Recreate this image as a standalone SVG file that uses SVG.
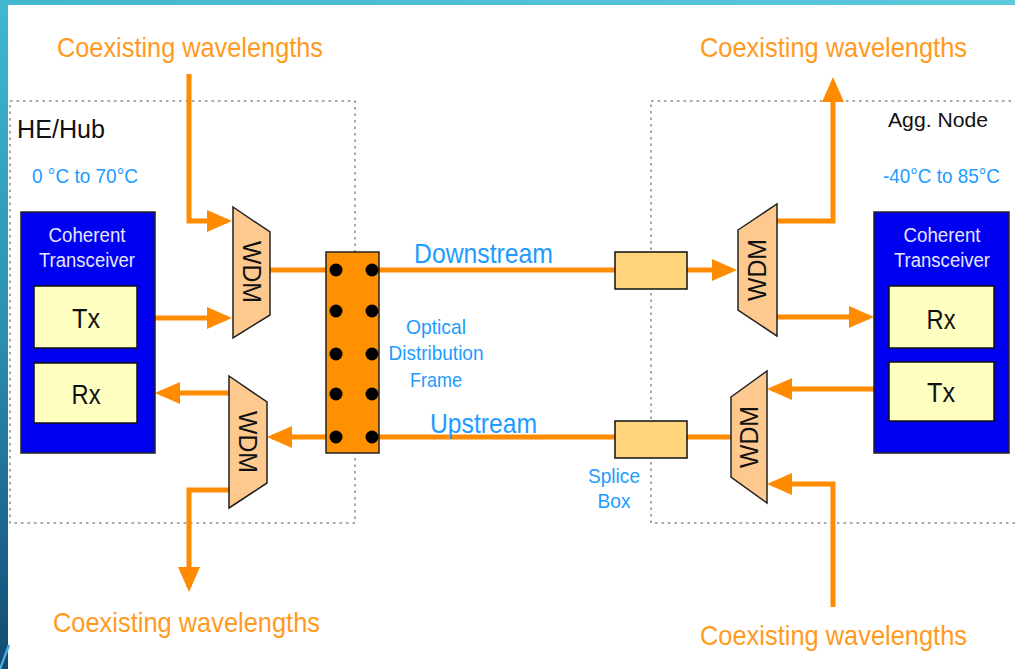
<svg xmlns="http://www.w3.org/2000/svg" width="1015" height="669" viewBox="0 0 1015 669">
<defs>
<linearGradient id="gl" x1="0" y1="0" x2="0" y2="1">
<stop offset="0" stop-color="#3fb8d2"/>
<stop offset="0.5" stop-color="#2a8fb2"/>
<stop offset="1" stop-color="#124a72"/>
</linearGradient>
<linearGradient id="gt" x1="0" y1="0" x2="1" y2="0">
<stop offset="0" stop-color="#44b6cf"/>
<stop offset="1" stop-color="#5ec8dc"/>
</linearGradient>
<marker id="ah" markerUnits="userSpaceOnUse" markerWidth="26" markerHeight="24" refX="20" refY="11" orient="auto">
<path d="M0,0 L25,11 L0,22 z" fill="#ff8c00"/>
</marker>
<style>
.dash{fill:none;stroke:#8a8a8a;stroke-width:1.5;stroke-dasharray:2.5 4}
.ln{fill:none;stroke:#ff8c00;stroke-width:5}
.arr{marker-end:url(#ah)}
.txr{fill:#0000f0;stroke:#222;stroke-width:1.5}
.box{fill:#ffffc2;stroke:#111;stroke-width:1.5}
.wdm{fill:#fdc98e;stroke:#222;stroke-width:1.5}
.spl{fill:#ffd47c;stroke:#111;stroke-width:1.5}
.odf{fill:#ff9100;stroke:#222;stroke-width:1.5}
.dot{fill:#000}
text{font-family:"Liberation Sans",Arial,sans-serif}
.cw{fill:#ff9a1e;font-size:28px}
.bl{fill:#1e9bff}
.wt{fill:#e6e6ff;font-size:20px;text-anchor:middle}
.tr{fill:#111;font-size:28px;text-anchor:middle}
.wd{fill:#111;font-size:25px;text-anchor:middle}
</style>
</defs>
<rect x="0" y="0" width="1015" height="669" fill="#ffffff"/>
<rect x="0" y="0" width="8" height="669" fill="url(#gl)"/>
<rect x="0" y="0" width="1015" height="5" fill="url(#gt)"/>
<line x1="0" y1="669" x2="9" y2="645" stroke="#4aa8e0" stroke-width="2.5"/>

<g id="he-hub">
<rect class="dash" x="10" y="101" width="345" height="422"/>
<text x="17" y="138" font-size="25" fill="#111" textLength="88" lengthAdjust="spacingAndGlyphs">HE/Hub</text>
<text class="bl" x="32" y="183" font-size="21" textLength="106" lengthAdjust="spacingAndGlyphs">0 °C to 70°C</text>
</g>
<g id="agg-node">
<rect class="dash" x="651" y="101" width="400" height="422"/>
<text x="888" y="127" font-size="21" fill="#111" textLength="100" lengthAdjust="spacingAndGlyphs">Agg. Node</text>
<text class="bl" x="883" y="183" font-size="21" textLength="117" lengthAdjust="spacingAndGlyphs">-40°C to 85°C</text>
</g>

<g id="connectors">
<path class="ln arr" d="M189,74 V221 H227"/>
<path class="ln arr" d="M155,318 H227"/>
<path class="ln" d="M270,270 H615"/>
<path class="ln arr" d="M687,270 H732"/>
<path class="ln arr" d="M731,437 H272"/>
<path class="ln arr" d="M229,393 H160"/>
<path class="ln arr" d="M229,490 H189 V587"/>
<path class="ln arr" d="M777,221 H833 V82"/>
<path class="ln arr" d="M777,317 H869"/>
<path class="ln arr" d="M874,389 H772"/>
<path class="ln arr" d="M833,607 V484 H772"/>
</g>

<g id="labels">
<text class="cw" x="57" y="57" textLength="266" lengthAdjust="spacingAndGlyphs">Coexisting wavelengths</text>
<text class="cw" x="700" y="57" textLength="267" lengthAdjust="spacingAndGlyphs">Coexisting wavelengths</text>
<text class="cw" x="53" y="632" textLength="267" lengthAdjust="spacingAndGlyphs">Coexisting wavelengths</text>
<text class="cw" x="700" y="645" textLength="267" lengthAdjust="spacingAndGlyphs">Coexisting wavelengths</text>
<text class="bl" x="414" y="263" font-size="28" textLength="139" lengthAdjust="spacingAndGlyphs">Downstream</text>
<text class="bl" x="430" y="433" font-size="28" textLength="107" lengthAdjust="spacingAndGlyphs">Upstream</text>
</g>

<g id="tx-left">
<rect class="txr" x="21" y="212" width="134" height="241"/>
<text class="wt" x="87" y="242" textLength="77" lengthAdjust="spacingAndGlyphs">Coherent</text>
<text class="wt" x="87" y="267" textLength="96" lengthAdjust="spacingAndGlyphs">Transceiver</text>
<rect class="box" x="34" y="286" width="103" height="62"/>
<text class="tr" x="86" y="328" textLength="28" lengthAdjust="spacingAndGlyphs">Tx</text>
<rect class="box" x="34" y="363" width="103" height="60"/>
<text class="tr" x="86" y="404" textLength="29" lengthAdjust="spacingAndGlyphs">Rx</text>
</g>

<g id="wdm-left-top">
<polygon class="wdm" points="233,207 270,232 270,315 233,338"/>
<text class="wd" transform="translate(252,272) rotate(90)" y="9" textLength="62" lengthAdjust="spacingAndGlyphs">WDM</text>
</g>
<g id="wdm-left-bottom">
<polygon class="wdm" points="229,376 267,402 267,483 229,508"/>
<text class="wd" transform="translate(248,442) rotate(90)" y="9" textLength="62" lengthAdjust="spacingAndGlyphs">WDM</text>
</g>

<g id="odf">
<rect class="odf" x="326" y="252" width="53" height="201"/>
<circle class="dot" cx="336" cy="270" r="6.5"/><circle class="dot" cx="372" cy="270" r="6.5"/>
<circle class="dot" cx="336" cy="311" r="6.5"/><circle class="dot" cx="372" cy="311" r="6.5"/>
<circle class="dot" cx="336" cy="354" r="6.5"/><circle class="dot" cx="372" cy="354" r="6.5"/>
<circle class="dot" cx="336" cy="394" r="6.5"/><circle class="dot" cx="372" cy="394" r="6.5"/>
<circle class="dot" cx="336" cy="437" r="6.5"/><circle class="dot" cx="372" cy="437" r="6.5"/>
<text class="bl" x="436" y="334" font-size="21" text-anchor="middle" textLength="60" lengthAdjust="spacingAndGlyphs">Optical</text>
<text class="bl" x="436" y="360" font-size="21" text-anchor="middle" textLength="95" lengthAdjust="spacingAndGlyphs">Distribution</text>
<text class="bl" x="436" y="387" font-size="21" text-anchor="middle" textLength="52" lengthAdjust="spacingAndGlyphs">Frame</text>
</g>

<g id="splice-box-top">
<rect class="spl" x="615" y="252" width="72" height="37"/>
</g>
<g id="splice-box-bottom">
<rect class="spl" x="615" y="421" width="72" height="37"/>
<text class="bl" x="614" y="483" font-size="21" text-anchor="middle" textLength="52" lengthAdjust="spacingAndGlyphs">Splice</text>
<text class="bl" x="614" y="508" font-size="21" text-anchor="middle" textLength="33" lengthAdjust="spacingAndGlyphs">Box</text>
</g>

<g id="wdm-right-top">
<polygon class="wdm" points="738,230 777,204 777,336 738,310"/>
<text class="wd" transform="translate(757,270) rotate(-90)" y="9" textLength="62" lengthAdjust="spacingAndGlyphs">WDM</text>
</g>
<g id="wdm-right-bottom">
<polygon class="wdm" points="731,397 767,371 767,503 731,477"/>
<text class="wd" transform="translate(749,437) rotate(-90)" y="9" textLength="62" lengthAdjust="spacingAndGlyphs">WDM</text>
</g>

<g id="tx-right">
<rect class="txr" x="874" y="212" width="135" height="241"/>
<text class="wt" x="942" y="242" textLength="77" lengthAdjust="spacingAndGlyphs">Coherent</text>
<text class="wt" x="942" y="267" textLength="96" lengthAdjust="spacingAndGlyphs">Transceiver</text>
<rect class="box" x="889" y="286" width="105" height="62"/>
<text class="tr" x="941" y="329" textLength="29" lengthAdjust="spacingAndGlyphs">Rx</text>
<rect class="box" x="889" y="362" width="105" height="59"/>
<text class="tr" x="941" y="402" textLength="28" lengthAdjust="spacingAndGlyphs">Tx</text>
</g>
</svg>
